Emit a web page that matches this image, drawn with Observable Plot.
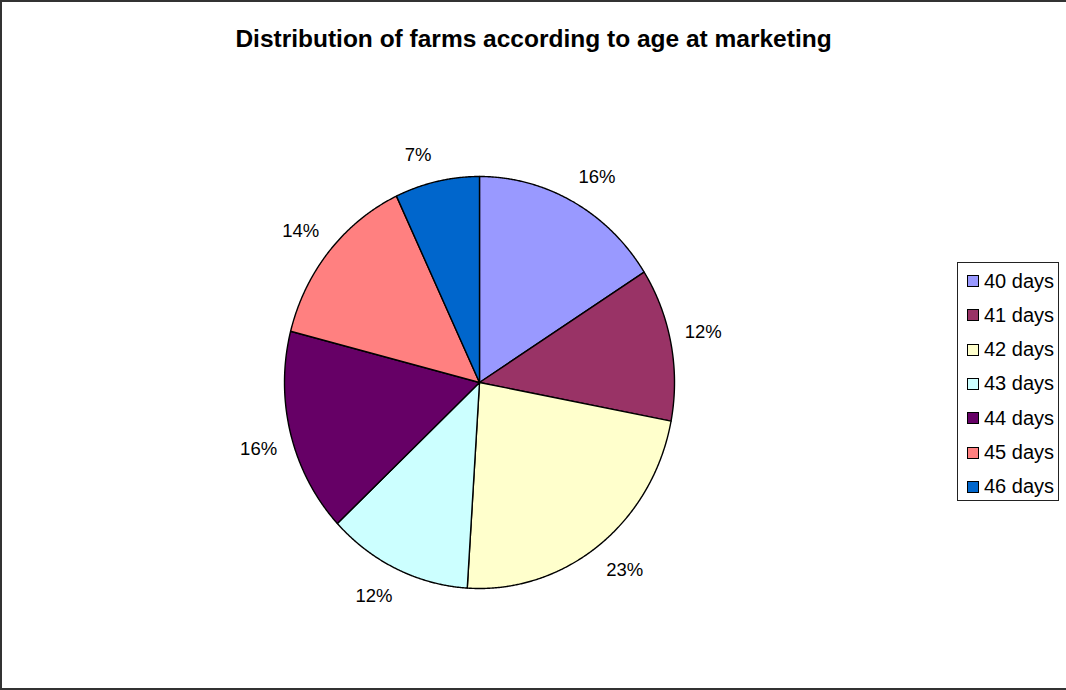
<!DOCTYPE html>
<html>
<head>
<meta charset="utf-8">
<script src="https://cdn.jsdelivr.net/npm/d3@7"></script>
<script src="https://cdn.jsdelivr.net/npm/@observablehq/plot@0.6"></script>
<style>
  html, body { margin: 0; padding: 0; overflow: hidden; background: #fff; }
  #wrap { position: relative; width: 1066px; height: 690px; overflow: hidden; font-family: "Liberation Sans", Arial, sans-serif; }
  #frame { position: absolute; left: 0; top: 0; width: 1080px; height: 686px; border: 2px solid #333; pointer-events: none; }
  #chart { position: absolute; left: 0; top: 0; }
  #legend { position: absolute; left: 957px; top: 262px; width: 102px; height: 239px; border: 1px solid #222; background: #fff; box-sizing: border-box; }
  .item { position: absolute; left: 9px; height: 24px; display: flex; align-items: center; font-size: 20px; color: #000; white-space: nowrap; }
  .sw { width: 10px; height: 10px; border: 1px solid #000; margin-right: 5px; }
</style>
</head>
<body>
<div id="wrap">
  <div id="chart"></div>
  <div id="legend"></div>
  <div id="frame"></div>
</div>
<script>
const title = "Distribution of farms according to age at marketing";
const categories = ["40 days", "41 days", "42 days", "43 days", "44 days", "45 days", "46 days"];
const percents = [16, 12, 23, 12, 16, 14, 7];
const colors = ["#9999FF", "#993366", "#FFFFCC", "#CCFFFF", "#660066", "#FF8080", "#0066CC"];

const arcs = d3.pie().sort(null).value(d => d)(percents);

// slice outlines in unit-circle space
const slicePts = [];
arcs.forEach((a, i) => {
  slicePts.push({x: 0, y: 0, cat: categories[i]});
  const n = Math.max(2, Math.ceil((a.endAngle - a.startAngle) / 0.005));
  for (let k = 0; k <= n; k++) {
    const t = a.startAngle + (a.endAngle - a.startAngle) * k / n;
    slicePts.push({x: Math.sin(t), y: Math.cos(t), cat: categories[i]});
  }
});

const labels = arcs.map((a, i) => {
  const m = (a.startAngle + a.endAngle) / 2;
  const s = Math.sin(m), c = Math.cos(m);
  return {
    x: 1.09 * s + 0.077 * Math.sign(s),
    y: 1.09 * c + 0.045 * Math.sign(c) - 0.005,
    text: percents[i] + "%"
  };
});

const plot = Plot.plot({
  width: 1066,
  height: 690,
  margin: 0,
  x: {domain: [-1, 1], range: [284, 674], axis: null},
  y: {domain: [-1, 1], range: [588, 176], axis: null},
  color: {domain: categories, range: colors},
  style: {fontFamily: "'Liberation Sans', Arial, sans-serif", background: "transparent"},
  marks: [
    Plot.line(slicePts, {x: "x", y: "y", z: "cat", fill: "cat", stroke: "#000", strokeWidth: 1.4, curve: "linear-closed", strokeLinejoin: "round"}),
    Plot.text(labels, {x: "x", y: "y", text: "text", fontSize: 18.5, fill: "#000", lineAnchor: "middle"}),
    Plot.text([title], {frameAnchor: "top", dy: 29, fontSize: 24.5, fontWeight: "bold", fill: "#000"})
  ]
});
document.getElementById("chart").appendChild(plot);

const legend = document.getElementById("legend");
categories.forEach((c, i) => {
  const it = document.createElement("div");
  it.className = "item";
  it.style.top = (6 + i * 34.3) + "px";
  const sw = document.createElement("div");
  sw.className = "sw";
  sw.style.background = colors[i];
  const tx = document.createElement("span");
  tx.textContent = c;
  it.appendChild(sw);
  it.appendChild(tx);
  legend.appendChild(it);
});
</script>
</body>
</html>
